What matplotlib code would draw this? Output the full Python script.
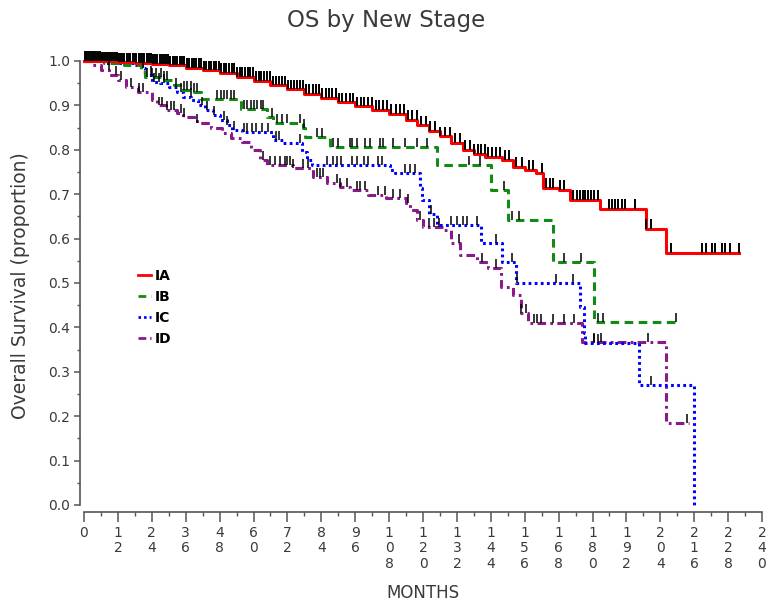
import numpy as np
import matplotlib
matplotlib.use("Agg")
import matplotlib.pyplot as plt
from matplotlib.lines import Line2D

# ---------------- data ----------------
groups = ["IA", "IB", "IC", "ID"]

ia_t = [0, 6, 12, 18, 24, 30, 36, 42, 48, 54, 60, 66, 72, 78, 84, 90, 96, 102, 108,
        114, 118, 122, 126, 130, 134, 138, 142, 148, 152, 156, 160, 162.5, 168, 172,
        182.6, 199, 206]
ia_s = [1.0, .999, .997, .996, .994, .99, .985, .979, .973, .965, .955, .945, .936,
        .926, .917, .907, .898, .89, .881, .867, .855, .843, .83, .815, .8, .79, .784,
        .777, .761, .755, .748, .714, .709, .687, .667, .622, .568]
ia_end = 232

ib_t = [0, 7, 14, 20, 21.5, 28, 32, 34, 39, 41.4, 55.5, 64.8, 67, 77.5, 78.2, 87,
        125, 144, 150, 166, 180.5]
ib_s = [1.0, .995, .99, .975, .964, .957, .946, .935, .93, .914, .893, .874, .86,
        .849, .829, .806, .766, .709, .642, .547, .412]
ib_end = 210

ic_t = [0, 7, 18, 20.5, 21.5, 24, 27, 30, 33, 35, 38, 40.5, 43, 45.5, 48, 50.5, 52.5,
        56, 67, 70.4, 77, 79, 80.7, 108.3, 110, 118.9, 119.5, 122, 125, 140.5, 148,
        153, 175.5, 177, 177.5, 196.5, 216]
ic_s = [1.0, .995, .99, .984, .968, .953, .95, .941, .93, .919, .912, .9, .89, .878,
        .867, .856, .845, .84, .822, .815, .795, .777, .766, .754, .748, .715, .687,
        .655, .63, .59, .547, .5, .446, .387, .365, .27, 0.0]
ic_end = 216

id_t = [0, 3, 6, 9, 12, 15, 19, 24, 26, 29, 33, 35, 40, 45, 49, 52, 56, 59, 62.3,
        64.8, 74, 81, 86, 90.6, 94, 100.5, 107, 114, 115.4, 117.8, 120, 127, 130, 133,
        139, 143, 147.5, 152, 154.6, 157, 176.4, 206]
id_s = [1.0, .99, .98, .968, .957, .941, .93, .912, .9, .89, .883, .874, .86, .849,
        .838, .827, .818, .8, .777, .766, .759, .739, .725, .716, .709, .698, .691,
        .68, .664, .642, .626, .62, .59, .563, .547, .534, .491, .473, .432, .41,
        .367, .185]
id_end = 214

ia_cens = [0.3, 0.8, 1.2, 1.9, 2.5, 3.1, 3.6, 4.2, 4.9, 5.5, 6.2, 6.8, 7.4, 8.1, 8.9,
           9.5, 10.2, 10.8, 11.6, 12.3, 13.0, 13.7, 14.3, 15.1, 15.8, 16.4, 17.2, 17.9,
           18.5, 19.3, 20.1, 20.8, 21.4, 22.2, 23.0, 23.7, 24.5, 25.2, 26.0, 26.8,
           27.5, 28.3, 29.1, 29.8, 30.6, 31.5, 32.3, 33.0, 33.9, 34.7, 35.5, 36.4,
           37.2, 38.1, 38.9, 39.8, 40.6, 41.5, 42.4, 43.3, 44.1, 45.0, 45.9, 46.8,
           47.7, 48.6, 49.5, 50.4, 51.3, 52.3, 53.2, 54.1, 55.1, 56.0, 57.0, 58.0,
           58.9, 59.9, 60.9, 61.9, 62.8, 63.8, 64.9, 65.9, 66.9, 67.9, 69.0, 70.0,
           71.1, 72.1, 73.2, 74.3, 75.3, 76.4, 77.5, 78.6, 79.8, 80.9, 82.0, 83.2,
           84.3, 85.5, 86.7, 87.9, 89.1, 90.3, 91.5, 92.8, 94.0, 95.3, 96.6, 97.9,
           99.2, 100.5, 101.8, 103.2, 104.6, 106.0, 107.4, 108.8, 110.3, 111.7,
           113.2, 114.7, 116.2, 117.8, 119.4, 121.0, 122.6, 124.3, 126.0, 127.7,
           129.4, 131.2, 133.0, 134.8, 136.5, 138.0, 139.5, 140.5, 141.8, 143.0,
           144.6, 146.0, 147.3, 149.0, 150.5, 153.0, 155.0, 157.5, 159.0, 162.0,
           163.5, 165.0, 166.0, 168.5, 170.0, 173.0, 174.5, 175.5, 176.5, 177.5,
           178.5, 179.5, 180.5, 182.0, 186.0, 187.0, 188.0, 189.0, 190.5, 191.5,
           195.0, 199.0, 200.7, 207.8, 218.8, 220.0, 222.3, 223.4, 225.8, 226.9,
           228.7, 232.0]
ib_cens = [22.3, 24, 25.5, 27.3, 28.3, 29.4, 35.4, 36.5, 37.9, 39, 40, 47, 48.5, 49.6,
           50.6, 52, 53, 56.6, 57.7, 59, 60.2, 61.2, 62.5, 63.4, 66.5, 68.3, 70, 71.9,
           76.5, 77.7, 82.5, 84.2, 88.2, 90, 94, 95, 96.5, 99.5, 101.2, 104.8, 105.8,
           109.5, 113.6, 118, 121.4, 136.3, 140, 148.7, 151.5, 154, 170, 176, 182,
           183.7, 209.5]
ic_cens = [21, 23.7, 24.8, 26.5, 28.3, 32.6, 34.3, 37.9, 41.8, 43.5, 46, 49.6, 50.6,
           53, 56.6, 57.7, 59.5, 61, 63, 65, 68, 69, 76.5, 86, 88, 89.5, 91, 95, 96.5,
           99, 100.5, 104, 105.5, 113.6, 115.4, 117, 123, 130, 132, 134, 135.6, 139,
           146, 151.5, 153.3, 167, 173, 180.5, 182, 200.7]
id_cens = [8.8, 11.3, 13, 16.6, 19.5, 21, 26.5, 27.6, 29.4, 30.8, 31.9, 34.3, 35.4,
           40, 63.4, 65.8, 67.6, 69.4, 71, 72, 73, 74, 77.5, 79.3, 82.5, 83.5, 84.6,
           89.5, 90.6, 93, 96.6, 97.7, 99.5, 104, 106.5, 109.4, 112, 114.7, 119, 122,
           124, 125.7, 132.7, 141, 146, 154.7, 156.5, 159.4, 160.4, 161.8, 166, 170,
           173.5, 180.5, 183, 199.6, 213.5]

x_ticks = list(range(0, 241, 12))
y_ticks = [0.0, 0.1, 0.2, 0.3, 0.4, 0.5, 0.6, 0.7, 0.8, 0.9, 1.0]

# ---------------- styling ----------------
colors = {"IA": "#ff0000", "IB": "#138a13", "IC": "#0000ff", "ID": "#8a1a8a"}
styles = {"IA": "-", "IB": (0, (2.8, 1.8)), "IC": (0, (0.9, 1.1)),
          "ID": (0, (2.8, 1.4, 0.9, 1.4))}

series = {
    "IA": (ia_t, ia_s, ia_end, ia_cens),
    "IB": (ib_t, ib_s, ib_end, ib_cens),
    "IC": (ic_t, ic_s, ic_end, ic_cens),
    "ID": (id_t, id_s, id_end, id_cens),
}

W, H = 768, 604
fig = plt.figure(figsize=(W / 100, H / 100), dpi=100)
ax = fig.add_axes([84 / W, (H - 505) / H, 678 / W, 444 / H])
ax.set_xlim(0, 240)
ax.set_ylim(0, 1.0)

axis_col = "#555555"
text_col = "#3a3a3a"

for g in ["ID", "IC", "IB", "IA"]:
    t, s, end, cens = series[g]
    tt = list(t) + [end]
    ss = list(s) + [s[-1]]
    ax.step(tt, ss, where="post", color=colors[g], lw=2.2, ls=styles[g],
            clip_on=False, zorder=3 if g == "IA" else 2)
    # censor marks
    ta = np.array(t)
    sa = np.array(s)
    c = np.array(cens)
    idx = np.searchsorted(ta, c, side="right") - 1
    yc = sa[idx]
    h = 0.022 if g == "IA" else 0.02
    ax.vlines(c, yc, yc + h, colors="black", lw=1.4 if g == "IA" else 1.1,
              clip_on=False, zorder=4)

# spines
for sp in ["top", "right"]:
    ax.spines[sp].set_visible(False)
ax.spines["left"].set_position(("outward", 3))
ax.spines["bottom"].set_position(("outward", 5))
ax.spines["left"].set_bounds(0, 1.0)
for sp in ["left", "bottom"]:
    ax.spines[sp].set_color(axis_col)
    ax.spines[sp].set_linewidth(1.2)

ax.set_yticks(y_ticks)
ax.set_yticklabels([f"{v:.1f}" for v in y_ticks])
ax.set_yticks(np.arange(0.05, 1.0, 0.1), minor=True)
ax.set_xticks(x_ticks)
ax.set_xticklabels(["\n".join(str(v)) for v in x_ticks], linespacing=1.15)
ax.set_xticks(np.arange(6, 240, 12), minor=True)

ax.tick_params(axis="y", which="major", direction="out", length=4, width=1.1,
               color=axis_col, labelsize=10, labelcolor=text_col, pad=3)
ax.tick_params(axis="y", which="minor", direction="out", length=2, width=1.0,
               color=axis_col)
ax.tick_params(axis="x", which="major", direction="out", length=7, width=1.1,
               color=axis_col, labelsize=10, labelcolor=text_col, pad=3)
ax.tick_params(axis="x", which="minor", direction="out", length=3, width=1.0,
               color=axis_col)
for lab in ax.get_xticklabels():
    lab.set_verticalalignment("top")

ax.set_xlabel("MONTHS", fontsize=12, color=text_col, labelpad=9)
ax.set_ylabel("Overall Survival (proportion)", fontsize=13.5, color=text_col)
ax.yaxis.set_label_coords(30 / W, (H - 286) / H, transform=fig.transFigure)
fig.text(0.503, (H - 21) / H, "OS by New Stage", ha="center", va="center",
         fontsize=16.5, color=text_col)

handles = [Line2D([0], [0], color=colors[g], lw=2.0, ls=styles[g]) for g in groups]
leg = ax.legend(handles, groups, loc="upper left",
                bbox_to_anchor=(138 / W, (H - 269) / H),
                bbox_transform=fig.transFigure, frameon=False, fontsize=10,
                handlelength=0.9, handletextpad=0.3, labelspacing=0.5,
                borderaxespad=0, borderpad=0)
for txt in leg.get_texts():
    txt.set_fontweight("bold")
    txt.set_color("black")

fig.savefig("out.png", dpi=100)
